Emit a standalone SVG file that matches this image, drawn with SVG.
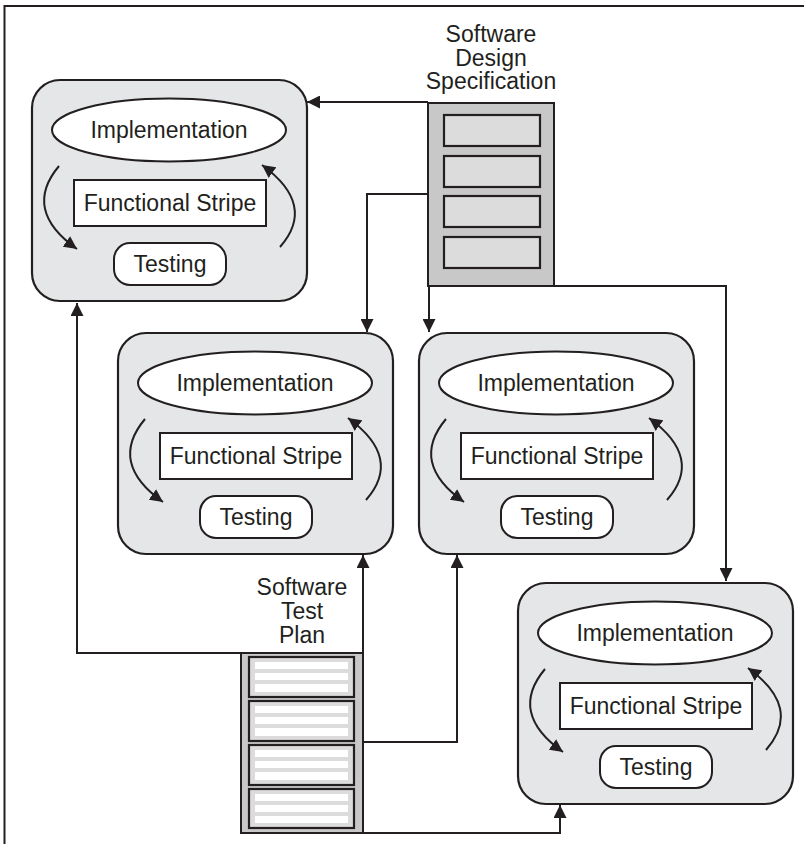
<svg xmlns="http://www.w3.org/2000/svg" width="804" height="844" viewBox="0 0 804 844">
<defs>
<style>
.frame{fill:none;stroke:#231f20;stroke-width:2}
.box{fill:#e5e6e7;stroke:#231f20;stroke-width:2.2}
.wh{fill:#fff;stroke:#231f20;stroke-width:2}
.t{font-family:"Liberation Sans",Arial,sans-serif;font-size:23px;fill:#231f20;text-anchor:middle}
.arc{fill:none;stroke:#231f20;stroke-width:2;marker-end:url(#ah)}
.con{fill:none;stroke:#231f20;stroke-width:2;marker-end:url(#ah)}
.doc{fill:#c8c8c8;stroke:#231f20;stroke-width:2}
.page{fill:#dcdcdc;stroke:#231f20;stroke-width:2.2}
.bar{fill:#fff}
</style>
<marker id="ah" markerUnits="userSpaceOnUse" markerWidth="14" markerHeight="13" refX="13" refY="6.5" orient="auto">
<path d="M0,0 L13,6.5 L0,13 z" fill="#231f20"/>
</marker>
<g id="cycle">
<rect class="box" x="0" y="0" width="275" height="221" rx="28"/>
<ellipse class="wh" cx="137" cy="50" rx="117" ry="31.5"/>
<text class="t" x="137" y="58">Implementation</text>
<rect class="wh" x="42" y="100" width="192" height="46"/>
<text class="t" x="138" y="131">Functional Stripe</text>
<rect class="wh" x="82" y="163" width="112" height="42" rx="16"/>
<text class="t" x="138" y="192">Testing</text>
<path class="arc" d="M27,86 Q-10,130 45,169"/>
<path class="arc" d="M248,167 Q285,125 230,85"/>
</g>
</defs>
<rect x="0" y="0" width="804" height="844" fill="#fff"/>
<path class="frame" d="M4.5,844 V6 H804"/>

<g id="node1" transform="translate(32,80)"><use href="#cycle"/></g>
<g id="node2" transform="translate(118,333)"><use href="#cycle"/></g>
<g id="node3" transform="translate(419,333)"><use href="#cycle"/></g>
<g id="node4" transform="translate(518,583)"><use href="#cycle"/></g>

<g id="sds">
<rect class="doc" x="428" y="103" width="126" height="183"/>
<rect class="page" x="444" y="115" width="96" height="31"/>
<rect class="page" x="444" y="156" width="96" height="31"/>
<rect class="page" x="444" y="196" width="96" height="31"/>
<rect class="page" x="444" y="237" width="96" height="31"/>
<text class="t" x="491" y="42">Software</text>
<text class="t" x="491" y="65.5">Design</text>
<text class="t" x="491" y="89">Specification</text>
</g>

<g id="stp">
<rect class="doc" x="241" y="653" width="122" height="180"/>
<g>
<rect class="page" x="249" y="657" width="105" height="40"/>
<rect class="bar" x="255" y="662" width="93" height="7"/>
<rect class="bar" x="255" y="673" width="93" height="7"/>
<rect class="bar" x="255" y="684" width="93" height="8"/>
</g>
<g>
<rect class="page" x="249" y="701" width="105" height="40"/>
<rect class="bar" x="255" y="706" width="93" height="7"/>
<rect class="bar" x="255" y="717" width="93" height="7"/>
<rect class="bar" x="255" y="728" width="93" height="8"/>
</g>
<g>
<rect class="page" x="249" y="745" width="105" height="40"/>
<rect class="bar" x="255" y="750" width="93" height="7"/>
<rect class="bar" x="255" y="761" width="93" height="7"/>
<rect class="bar" x="255" y="772" width="93" height="8"/>
</g>
<g>
<rect class="page" x="249" y="789" width="105" height="39"/>
<rect class="bar" x="255" y="794" width="93" height="7"/>
<rect class="bar" x="255" y="805" width="93" height="7"/>
<rect class="bar" x="255" y="816" width="93" height="7"/>
</g>
<text class="t" x="302" y="594.5">Software</text>
<text class="t" x="302" y="618.5">Test</text>
<text class="t" x="302" y="642.5">Plan</text>
</g>

<g id="connectors">
<path class="con" d="M428,102 H307"/>
<path class="con" d="M428,194 H367 V332"/>
<path class="con" d="M429,286 V332"/>
<path class="con" d="M554,286 H726 V581"/>
<path class="con" d="M241,653 H77 V303"/>
<path class="con" d="M363,653 V555"/>
<path class="con" d="M363,742 H457 V555"/>
<path class="con" d="M363,833 H560 V805"/>
</g>
</svg>
